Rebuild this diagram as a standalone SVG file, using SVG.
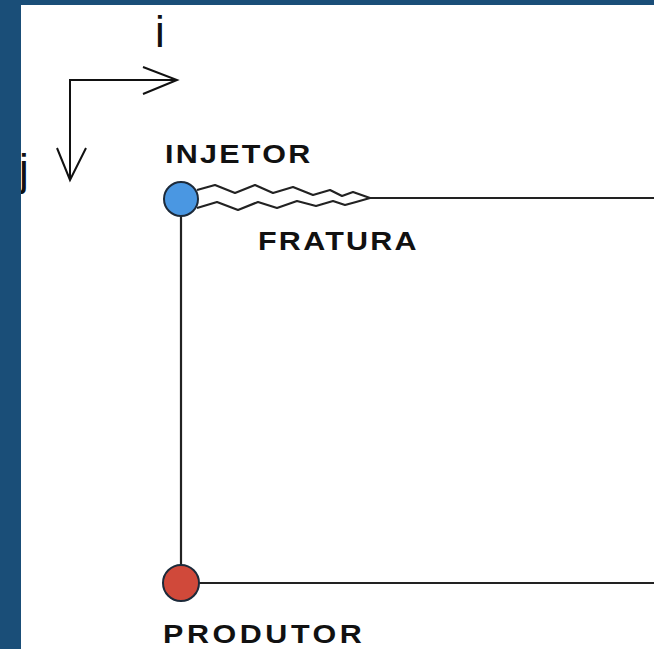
<svg xmlns="http://www.w3.org/2000/svg" width="654" height="649" viewBox="0 0 654 649">
  <style>
    .axis { fill: none; stroke: #111; stroke-width: 2; stroke-linejoin: miter; }
    .edge { fill: none; stroke: #222; stroke-width: 2.2; }
    .frac { fill: none; stroke: #222; stroke-width: 2.2; stroke-linejoin: round; }
    .axis-label { font-family: "Liberation Sans", Arial, sans-serif; font-size: 44px; fill: #111; }
    .label { font-family: "Liberation Sans", Arial, sans-serif; font-weight: bold; font-size: 25px; fill: #111; }
    .well { stroke: #1c2a3a; stroke-width: 2; }
  </style>

  <!-- frame -->
  <rect x="0" y="0" width="654" height="649" fill="#1a4e78"/>
  <rect x="21" y="5" width="633" height="644" fill="#ffffff"/>

  <!-- i / j grid axes -->
  <g id="axes">
    <text class="axis-label" x="160" y="47" text-anchor="middle">i</text>
    <text class="axis-label" x="19" y="185">j</text>
    <polyline class="axis" points="70,180 70,80 177,80"/>
    <polyline class="axis" points="143,67 177,80 143,94"/>
    <polyline class="axis" points="57,148 70,180 86,148"/>
  </g>
  <!-- left frame strip drawn over the j hook -->
  <rect x="0" y="5" width="21" height="644" fill="#1a4e78"/>

  <!-- connectors -->
  <g id="connectors">
    <line class="edge" x1="181" y1="216" x2="181" y2="565"/>
    <line class="edge" x1="370" y1="198" x2="654" y2="198"/>
    <line class="edge" x1="199" y1="583" x2="654" y2="583"/>
  </g>

  <!-- fracture from the injector -->
  <g id="fratura">
    <polyline class="frac" points="197,190 215,185 235,193 255,185 273,193 293,187 313,195 330,190 342,196 353,192 370,198"/>
    <polyline class="frac" points="197,208 217,202 238,210 258,202 277,208 297,201 316,206 333,201 345,205 356,202 370,198"/>
    <text class="label" transform="translate(258,250) scale(1.22,1)" x="0" y="0" textLength="130" lengthAdjust="spacing">FRATURA</text>
  </g>

  <!-- injector well -->
  <g id="injetor">
    <circle class="well" cx="181" cy="199" r="17" fill="#4a97e2"/>
    <text class="label" transform="translate(165,163) scale(1.22,1)" x="0" y="0" textLength="119" lengthAdjust="spacing">INJETOR</text>
  </g>

  <!-- producer well -->
  <g id="produtor">
    <circle class="well" cx="181" cy="583" r="18" fill="#d0493a"/>
    <text class="label" transform="translate(163,643) scale(1.22,1)" x="0" y="0" textLength="163" lengthAdjust="spacing">PRODUTOR</text>
  </g>
</svg>
